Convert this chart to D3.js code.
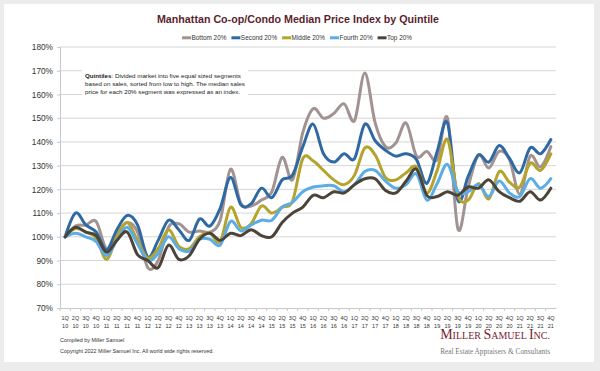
<!DOCTYPE html>
<html>
<head>
<meta charset="utf-8">
<script src="https://cdn.jsdelivr.net/npm/d3@7"></script>
<style>
  html, body { margin: 0; padding: 0; background: #ececec; }
  svg { display: block; font-family: "Liberation Sans", Arial, sans-serif; }
</style>
</head>
<body>
<svg id="chart" width="600" height="371"></svg>
<script>
// quarter labels: 1Q10 .. 4Q21
const quarterNames = ["1Q", "2Q", "3Q", "4Q"];
const years = ["10", "11", "12", "13", "14", "15", "16", "17", "18", "19", "20", "21"];
const quarters = years.flatMap(y => quarterNames.map(q => q + " " + y));

const yTicks = [70, 80, 90, 100, 110, 120, 130, 140, 150, 160, 170, 180];

const seriesNames = ["Bottom 20%", "Second 20%", "Middle 20%", "Fourth 20%", "Top 20%"];

// index values in %
const bottom = [100, 104.5, 105, 106.5, 95, 101, 106, 102, 87, 90, 104, 105.5,
  102, 102.5, 102, 107, 128.5, 114, 113, 115.5, 119, 133.5, 124, 144,
  154, 150, 152, 156, 149, 169, 148, 138, 139.5, 148, 134, 136,
  132.5, 150, 103.5, 121, 134.5, 129, 136, 132.5, 118, 134, 129.5, 138];
const second = [100, 110, 105, 102, 94.5, 103, 109, 105, 91.5, 98.5, 107, 103,
  98.5, 107.5, 104.5, 112, 125, 113.5, 114, 120.5, 116.5, 124, 126, 138,
  147.5, 135, 131.5, 135, 133, 147.5, 140.5, 136.5, 134, 135, 132.5, 122.5,
  136, 148, 115.5, 125.5, 134.5, 131.5, 138.5, 133, 127, 137.5, 135, 141];
const middle = [100, 103.5, 102, 99.5, 90.5, 100, 106, 98.5, 91, 95, 103, 96,
  95, 100, 101.5, 98, 112.5, 104, 105.5, 113, 110, 112.5, 115, 133,
  132, 128, 124, 122, 126, 137.5, 134.5, 125, 124, 127, 129.5, 118.5,
  128, 141, 117.5, 115.5, 122.5, 116, 127.5, 123, 121, 131, 128, 135];
const fourth = [100, 101.5, 100, 98, 92, 98.5, 104, 97, 90, 93, 100, 95,
  94, 99, 99, 96.5, 106.5, 102.5, 105, 107, 107, 112.5, 114.5, 119,
  121, 121.5, 121.5, 119, 122, 127.5, 128, 123.5, 120.5, 122, 126.5, 115.5,
  122.5, 130.5, 119, 119, 122, 117, 123.5, 118.5, 117, 124.5, 120.5, 124.5];
const top20 = [100, 104, 102, 100.5, 93.5, 98.5, 102, 92.5, 90, 87, 96.5, 90.5,
  92, 99, 101.5, 98.5, 101.5, 100.5, 103, 100.5, 100, 106, 110, 112.5,
  117.5, 116.5, 119, 118.5, 122, 124.5, 124.5, 119.5, 118.5, 123.5, 128.5, 117.5,
  117, 119, 117.5, 121, 120.5, 124, 119, 116.5, 115, 119, 115.5, 120.5];

const seriesValues = [bottom, second, middle, fourth, top20];
const seriesColors = ["#a39292", "#2f69a3", "#b4a42c", "#5cade6", "#4d4439"];

const svg = d3.select("#chart");

// white card
svg.append("rect")
  .attr("x", 4).attr("y", 4).attr("width", 590).attr("height", 358)
  .attr("fill", "#fff");

const margin = {top: 47, right: 44, bottom: 63, left: 60};
const width = 600 - margin.left - margin.right,
      height = 371 - margin.top - margin.bottom;

const x = d3.scaleBand().domain(quarters).range([margin.left, margin.left + width]);
const y = d3.scaleLinear().domain([70, 180]).range([margin.top + height, margin.top]);
const cx = d => x(d) + x.bandwidth() / 2;

// title
svg.append("text")
  .attr("x", 298).attr("y", 23)
  .attr("text-anchor", "middle")
  .attr("font-size", 10.7).attr("font-weight", "bold")
  .attr("fill", "#5b1f2e")
  .text("Manhattan Co-op/Condo Median Price Index by Quintile");

// gridlines
svg.append("g")
  .selectAll("line")
  .data(yTicks.slice(1))
  .join("line")
    .attr("x1", margin.left).attr("x2", margin.left + width)
    .attr("y1", d => y(d)).attr("y2", d => y(d))
    .attr("stroke", "#d6d6d6").attr("stroke-width", 1);

// y axis
const yAxis = svg.append("g")
  .attr("transform", `translate(${margin.left},0)`)
  .call(d3.axisLeft(y).tickValues(yTicks).tickFormat(d => d + "%").tickSize(3).tickPadding(4));
yAxis.select(".domain").attr("stroke", "#c8c8c8");
yAxis.selectAll(".tick line").attr("stroke", "#c8c8c8");
yAxis.selectAll("text").attr("font-size", 8.3).attr("fill", "#333")
  .attr("font-family", "Liberation Sans, Arial, sans-serif");

// x axis
const xAxis = svg.append("g")
  .attr("transform", `translate(0,${margin.top + height})`)
  .call(d3.axisBottom(x).tickSize(0).tickPadding(0));
xAxis.select(".domain").attr("stroke", "#c8c8c8");
xAxis.selectAll(".tick text").remove();
xAxis.selectAll(".tick").each(function(d) {
  const parts = d.split(" ");
  const t = d3.select(this).append("text")
    .attr("text-anchor", "middle")
    .attr("font-size", 5.5)
    .attr("fill", "#333")
    .attr("font-family", "Liberation Sans, Arial, sans-serif");
  t.append("tspan").attr("x", 0).attr("y", 12).text(parts[0]);
  t.append("tspan").attr("x", 0).attr("y", 19.5).text(parts[1]);
});
// small tick marks between categories
xAxis.selectAll(".sep")
  .data(quarters)
  .join("line")
    .attr("class", "sep")
    .attr("x1", d => x(d)).attr("x2", d => x(d))
    .attr("y1", 0).attr("y2", 3)
    .attr("stroke", "#c8c8c8");

// note box (white, covers gridlines)
const note = svg.append("g");
note.append("rect")
  .attr("x", 82).attr("y", 64).attr("width", 166).attr("height", 37)
  .attr("fill", "#fff");
const noteLines = [
  [["Quintiles", "bold"], [": Divided market into five equal sized segments", "normal"]],
  [["based on sales, sorted from low to high. The median sales", "normal"]],
  [["price for each 20% segment was expressed as an index.", "normal"]]
];
noteLines.forEach((parts, i) => {
  const t = note.append("text")
    .attr("x", 85).attr("y", 78 + i * 7.8)
    .attr("font-size", 6.2).attr("fill", "#222");
  parts.forEach(p => t.append("tspan").attr("font-weight", p[1]).text(p[0]));
});

// lines
const line = d3.line()
  .x((d, i) => cx(quarters[i]))
  .y(d => y(d))
  .curve(d3.curveCardinal.tension(0));

svg.append("g")
  .selectAll("path")
  .data(seriesValues)
  .join("path")
    .attr("d", d => line(d))
    .attr("fill", "none")
    .attr("stroke", (d, i) => seriesColors[i])
    .attr("stroke-width", 3)
    .attr("stroke-linejoin", "round")
    .attr("stroke-linecap", "round");

// legend
const legend = svg.append("g");
let lx = 0;
seriesNames.forEach((name, i) => {
  const g = legend.append("g").attr("transform", `translate(${lx},0)`);
  g.append("line")
    .attr("x1", 0).attr("x2", 9).attr("y1", -2.2).attr("y2", -2.2)
    .attr("stroke", seriesColors[i]).attr("stroke-width", 3);
  const t = g.append("text")
    .attr("x", 9.5).attr("y", 0)
    .attr("font-size", 6.4).attr("fill", "#333")
    .text(name);
  lx += 9.5 + t.node().getComputedTextLength() + 5;
});
legend.attr("transform", `translate(${297 - (lx - 5) / 2},40)`);

// footer
svg.append("text")
  .attr("x", 60).attr("y", 342)
  .attr("font-size", 5.4).attr("fill", "#333")
  .text("Compiled by Miller Samuel");
svg.append("text")
  .attr("x", 60).attr("y", 353)
  .attr("font-size", 5.4).attr("fill", "#333")
  .text("Copyright 2022 Miller Samuel Inc.  All world wide rights reserved.");

const logo = svg.append("text")
  .attr("x", 550).attr("y", 339)
  .attr("text-anchor", "end")
  .attr("font-family", "Liberation Serif, Times New Roman, serif")
  .attr("fill", "#7b2230");
[["M", 14], ["ILLER ", 10], ["S", 14], ["AMUEL ", 10], ["I", 14], ["NC.", 10]]
  .forEach(p => logo.append("tspan").attr("font-size", p[1]).text(p[0]));

svg.append("text")
  .attr("x", 550).attr("y", 354)
  .attr("text-anchor", "end")
  .attr("font-family", "Liberation Serif, Times New Roman, serif")
  .attr("font-size", 7.3).attr("fill", "#777")
  .text("Real Estate Appraisers & Consultants");
</script>
</body>
</html>
